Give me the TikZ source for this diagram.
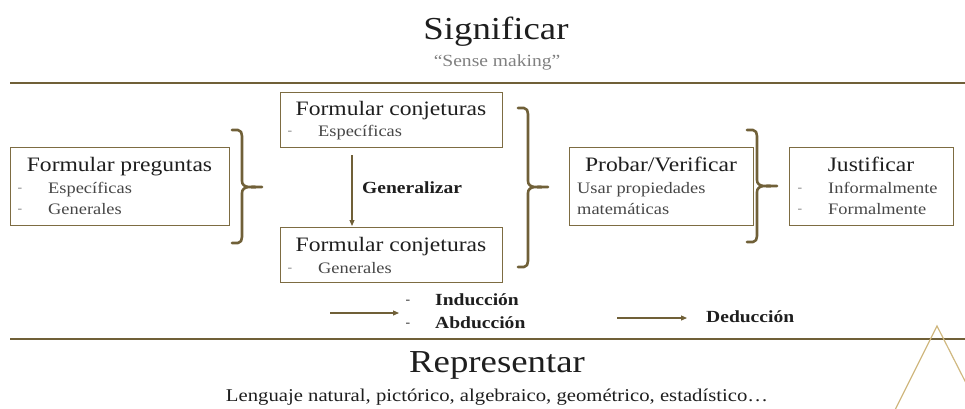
\documentclass[tikz,border=0pt]{standalone}
\usepackage{fontspec}
\setmainfont{Liberation Serif}[FakeStretch=1.15]
\usetikzlibrary{arrows.meta}
\definecolor{brn}{RGB}{112,96,56}
\definecolor{bxc}{RGB}{125,108,66}
\definecolor{gold}{RGB}{208,184,128}
\definecolor{txt}{RGB}{30,30,30}
\definecolor{sub}{RGB}{70,70,70}
\begin{document}
\begin{tikzpicture}[x=1pt,y=-1pt,
  box/.style={draw=bxc, line width=0.9pt, inner sep=0pt, anchor=north west},
  ttl/.style={text=txt, font=\fontsize{20.5}{22}\selectfont, inner sep=0pt, anchor=base},
  itm/.style={text=sub, font=\fontsize{16}{18}\selectfont, inner sep=0pt, anchor=base west},
  dsh/.style={text=gray, font=\fontsize{12}{14}\selectfont, inner sep=0pt},
  bld/.style={text=txt, font=\fontsize{17}{19}\selectfont\bfseries, inner sep=0pt, anchor=west},
  brc/.style={draw=brn, line width=2.6pt, line cap=round, line join=round},
  arr/.style={draw=brn, line width=1.1pt, -{Triangle[length=6pt,width=5pt]}},
  rule/.style={draw=brn, line width=1.8pt}
]
\useasboundingbox (0,0) rectangle (965,408);

% headings
\node[text=txt, font=\fontsize{32}{34}\selectfont, inner sep=0pt] (sig) at (496,32) {Significar};
\node[text=gray, font=\fontsize{17}{19}\selectfont, inner sep=0pt] (sm) at (497,62) {“Sense making”};
\coordinate (l1a) at (10,83); \coordinate (l1b) at (965,83);
\draw[rule] (l1a) -- (l1b);
\coordinate (l2a) at (10,339); \coordinate (l2b) at (965,339);
\draw[rule] (l2a) -- (l2b);
\node[text=txt, font=\fontsize{32}{34}\selectfont, inner sep=0pt] (rep) at (497,365) {Representar};
\node[text=txt, font=\fontsize{18}{20}\selectfont, inner sep=0pt] (len) at (497,397) {Lenguaje natural, pictórico, algebraico, geométrico, estadístico…};

% triangle decoration
\coordinate (ta) at (895,410); \coordinate (tb) at (937,326); \coordinate (tc) at (967,385);
\draw[gold, line width=1.2pt] (ta) -- (tb) -- (tc);

% Formular preguntas
\node[box, minimum width=219pt, minimum height=78pt] (fp) at (10,147) {};
\node[ttl] (fpt) at (119.5,171) {Formular preguntas};
\node[dsh] (fpd1) at (20,190) {-};
\node[itm] (fpi1) at (48,193) {Específicas};
\node[dsh] (fpd2) at (20,211) {-};
\node[itm] (fpi2) at (48,214) {Generales};

% brace 1
\draw[brc] (232,130) -- (238,130) to[out=0,in=90] (242,136) -- (242,181) to[out=-90,in=180] (262,187) to[out=180,in=90] (242,193) -- (242,237) to[out=-90,in=0] (238,243) -- (232,243);

% Formular conjeturas top
\node[box, minimum width=222pt, minimum height=55pt] (fc1) at (280,92) {};
\node[ttl] (fc1t) at (391,115) {Formular conjeturas};
\node[dsh] (fc1d) at (290,133) {-};
\node[itm] (fc1i) at (318,136) {Específicas};

% Formular conjeturas bottom
\node[box, minimum width=222pt, minimum height=55pt] (fc2) at (280,227) {};
\node[ttl] (fc2t) at (391,251) {Formular conjeturas};
\node[dsh] (fc2d) at (290,270) {-};
\node[itm] (fc2i) at (318,273) {Generales};

% generalizar arrow
\coordinate (ga) at (352,155);
\coordinate (gb) at (352,226);
\draw[arr] (ga) -- (gb);
\node[bld] (gen) at (362,188) {Generalizar};

% brace 2
\draw[brc] (518,108) -- (524,108) to[out=0,in=90] (528,114) -- (528,181) to[out=-90,in=180] (548,187) to[out=180,in=90] (528,193) -- (528,261) to[out=-90,in=0] (524,267) -- (518,267);

% Probar/Verificar
\node[box, minimum width=184pt, minimum height=78pt] (pv) at (569,147) {};
\node[ttl] (pvt) at (661,171) {Probar/Verificar};
\node[itm] (pvi1) at (577,193) {Usar propiedades};
\node[itm] (pvi2) at (577,214) {matemáticas};

% brace 3
\draw[brc] (747,130) -- (753,130) to[out=0,in=90] (757,136) -- (757,180) to[out=-90,in=180] (777,186) to[out=180,in=90] (757,192) -- (757,236) to[out=-90,in=0] (753,242) -- (747,242);

% Justificar
\node[box, minimum width=164pt, minimum height=78pt] (ju) at (789,147) {};
\node[ttl] (jut) at (871,171) {Justificar};
\node[dsh] (jud1) at (800,190) {-};
\node[itm] (jui1) at (828,193) {Informalmente};
\node[dsh] (jud2) at (800,211) {-};
\node[itm] (jui2) at (828,214) {Formalmente};

% bottom legend
\coordinate (a1a) at (330,313); \coordinate (a1b) at (399,313);
\draw[arr] (a1a) -- (a1b);
\node[dsh, text=txt] (bd1) at (408,302) {-};
\node[bld] (ind) at (435,300) {Inducción};
\node[dsh, text=txt] (bd2) at (408,325) {-};
\node[bld] (abd) at (435,323) {Abducción};
\coordinate (a2a) at (617,318); \coordinate (a2b) at (687,318);
\draw[arr] (a2a) -- (a2b);
\node[bld] (ded) at (706,317) {Deducción};
\end{tikzpicture}
\end{document}
